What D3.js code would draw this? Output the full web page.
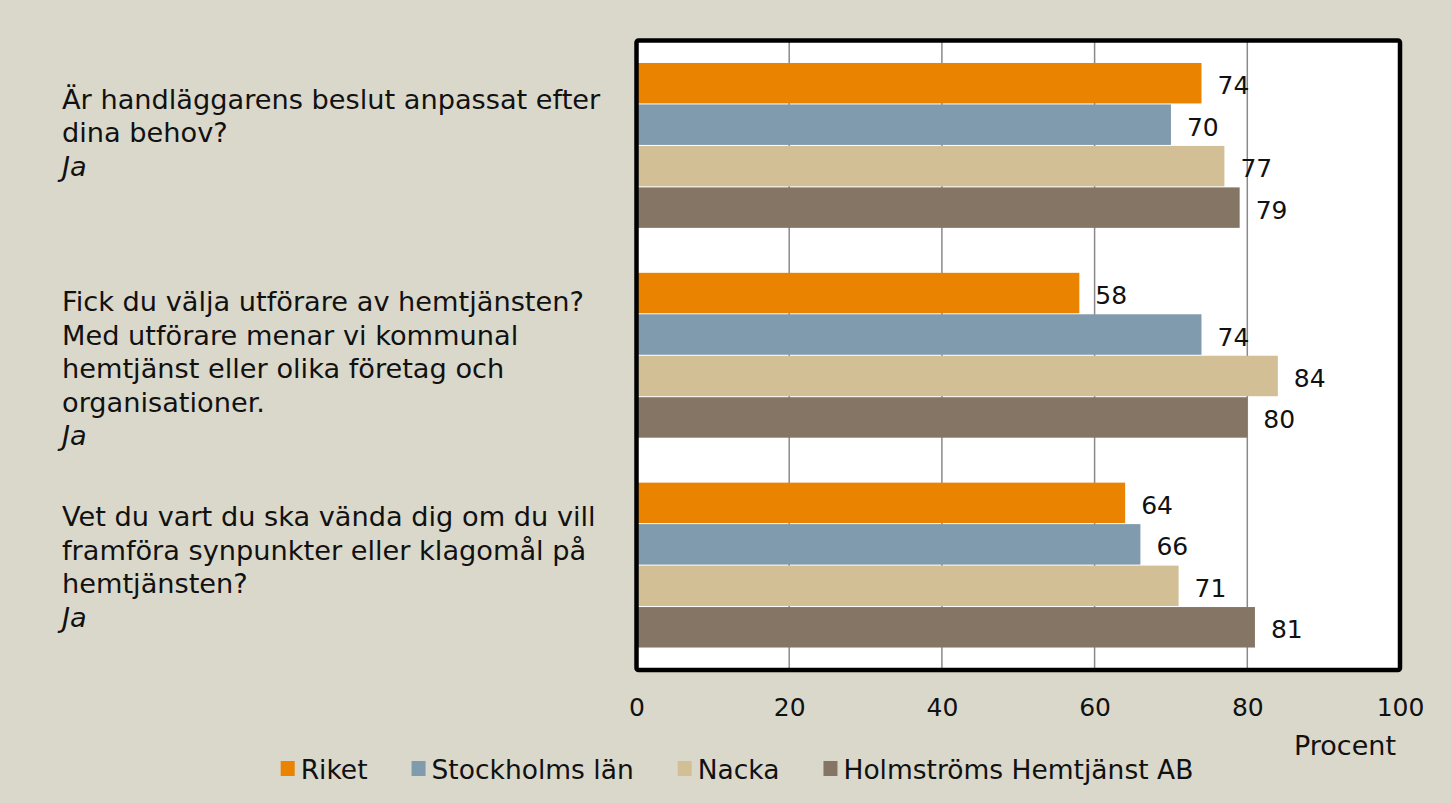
<!DOCTYPE html>
<html>
<head>
<meta charset="utf-8">
<script src="https://cdn.jsdelivr.net/npm/d3@7"></script>
<style>
  html, body { margin: 0; padding: 0; background: #dad8cb; }
  svg { display: block; }
  text { font-family: "DejaVu Sans", sans-serif; fill: #111; }
</style>
</head>
<body>
<svg id="chart" width="1451" height="803"></svg>
<script>
// ---- data ----
const questions = ["q1", "q2", "q3"];
const questionLines = [
  ["Är handläggarens beslut anpassat efter", "dina behov?", "Ja"],
  ["Fick du välja utförare av hemtjänsten?", "Med utförare menar vi kommunal", "hemtjänst eller olika företag och", "organisationer.", "Ja"],
  ["Vet du vart du ska vända dig om du vill", "framföra synpunkter eller klagomål på", "hemtjänsten?", "Ja"]
];
const series = ["Riket", "Stockholms län", "Nacka", "Holmströms Hemtjänst AB"];
const riket = [74, 58, 64];
const stockholm = [70, 74, 66];
const nacka = [77, 84, 71];
const holmstrom = [79, 80, 81];
const xTicks = [0, 20, 40, 60, 80, 100];
const axisTitle = "Procent";

const colors = ["#e98300", "#7f9bad", "#d3bf96", "#857564"];
const seriesValues = [riket, stockholm, nacka, holmstrom];

// ---- layout ----
const svg = d3.select("#chart");
const W = 1451, H = 803;
svg.append("rect").attr("width", W).attr("height", H).attr("fill", "#dad8cb");

const plot = { left: 636.5, right: 1400, top: 40.5, bottom: 670 };
const x = d3.scaleLinear().domain([0, 100]).range([plot.left, plot.right]);
const y0 = d3.scaleBand().domain(questions).range([plot.top, plot.bottom]).paddingInner(0).paddingOuter(0);
const y1 = d3.scaleBand().domain(series).range([0, y0.bandwidth()]).paddingInner(0).paddingOuter(0.53);

// plot background
svg.append("rect")
  .attr("x", plot.left).attr("y", plot.top)
  .attr("width", plot.right - plot.left).attr("height", plot.bottom - plot.top)
  .attr("fill", "#ffffff");

// gridlines
svg.append("g")
  .selectAll("line")
  .data(xTicks.filter(t => t > 0 && t < 100))
  .join("line")
  .attr("x1", d => x(d)).attr("x2", d => x(d))
  .attr("y1", plot.top).attr("y2", plot.bottom)
  .attr("stroke", "#8a8a8a").attr("stroke-width", 1.5);

// bars
const rows = [];
questions.forEach((q, qi) => {
  series.forEach((s, si) => {
    rows.push({ q, s, si, v: seriesValues[si][qi] });
  });
});

const g = svg.append("g");
g.selectAll("rect.bar")
  .data(rows)
  .join("rect")
  .attr("class", "bar")
  .attr("x", x(0))
  .attr("y", d => y0(d.q) + y1(d.s) + 0.5)
  .attr("width", d => x(d.v) - x(0))
  .attr("height", y1.bandwidth() - 1)
  .attr("fill", d => colors[d.si]);

// value labels
g.selectAll("text.val")
  .data(rows)
  .join("text")
  .attr("class", "val")
  .attr("x", d => x(d.v) + 16)
  .attr("y", d => y0(d.q) + y1(d.s) + y1.bandwidth() / 2 + 2)
  .attr("dy", "0.36em")
  .attr("font-size", 25)
  .text(d => d.v);

// frame
svg.append("rect")
  .attr("x", plot.left).attr("y", plot.top)
  .attr("width", plot.right - plot.left).attr("height", plot.bottom - plot.top)
  .attr("fill", "none").attr("stroke", "#000").attr("stroke-width", 4.5)
  .attr("rx", 2);

// x axis tick labels
const xAxis = d3.axisBottom(x).tickValues(xTicks).tickSize(0).tickPadding(28).tickFormat(d3.format("d"));
const ax = svg.append("g").attr("transform", `translate(0,${plot.bottom})`).call(xAxis);
ax.select(".domain").remove();
ax.selectAll("text").attr("font-size", 25).attr("font-family", "DejaVu Sans").attr("fill", "#111");

// axis title
svg.append("text")
  .attr("x", 1345).attr("y", 755)
  .attr("text-anchor", "middle")
  .attr("font-size", 27)
  .text(axisTitle);

// category labels
const lineH = 33.5;
const labelNudge = [-13, 13, 1.5];
questions.forEach((q, qi) => {
  const lines = questionLines[qi];
  const cy = y0(q) + y0.bandwidth() / 2 + labelNudge[qi];
  const firstY = cy - (lines.length - 1) / 2 * lineH;
  const t = svg.append("text")
    .attr("x", 62)
    .attr("font-size", 27.2);
  lines.forEach((ln, li) => {
    t.append("tspan")
      .attr("x", 62)
      .attr("y", firstY + li * lineH)
      .attr("dy", "0.36em")
      .attr("font-style", li === lines.length - 1 ? "italic" : "normal")
      .text(ln);
  });
});

// legend (centered)
const legend = svg.append("g");
const legendCenter = 737, legendGap = 44, swatch = 14, swGap = 6;
const items = series.map((s, si) => {
  const gi = legend.append("g");
  gi.append("rect")
    .attr("x", 0).attr("y", 761)
    .attr("width", swatch).attr("height", 15)
    .attr("fill", colors[si]);
  const tt = gi.append("text")
    .attr("x", swatch + swGap).attr("y", 769)
    .attr("dy", "0.36em")
    .attr("font-size", 26.5)
    .text(s);
  return { gi, w: swatch + swGap + tt.node().getComputedTextLength() };
});
const total = d3.sum(items, d => d.w) + legendGap * (items.length - 1);
let lx = legendCenter - total / 2;
items.forEach(it => {
  it.gi.attr("transform", `translate(${lx},0)`);
  lx += it.w + legendGap;
});
</script>
</body>
</html>
